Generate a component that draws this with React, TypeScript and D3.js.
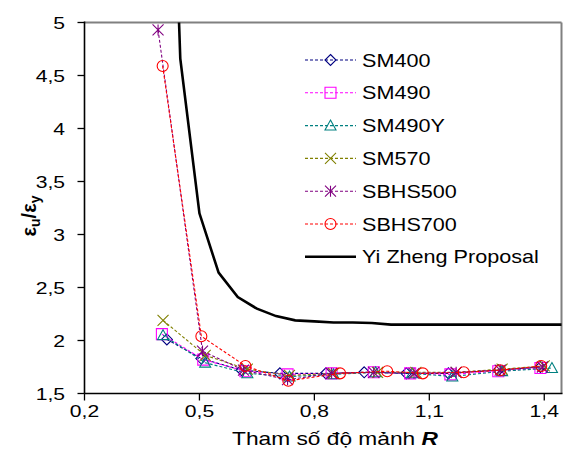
import React from "react";
import * as d3 from "d3";

// ---- data ----
const SERIES_NAMES = ["SM400", "SM490", "SM490Y", "SM570", "SBHS500", "SBHS700"];
const SERIES_COLORS = ["#000080", "#FF00FF", "#008080", "#808000", "#800080", "#FF0000"];
const SERIES_MARKERS = ["diamond", "square", "triangle", "x", "asterisk", "circle"];

const R_SM400 = [0.415, 0.505, 0.61, 0.71, 0.83, 0.93, 1.04, 1.15, 1.28, 1.39];
const V_SM400 = [2.01, 1.83, 1.72, 1.69, 1.69, 1.7, 1.69, 1.69, 1.72, 1.75];
const R_SM490 = [0.402, 0.51, 0.62, 0.73, 0.845, 0.955, 1.05, 1.155, 1.28, 1.39];
const V_SM490 = [2.06, 1.82, 1.71, 1.68, 1.69, 1.7, 1.69, 1.68, 1.71, 1.74];
const R_SM490Y = [0.405, 0.515, 0.625, 0.735, 0.85, 0.96, 1.055, 1.16, 1.29, 1.42];
const V_SM490Y = [2.05, 1.79, 1.69, 1.66, 1.68, 1.7, 1.69, 1.66, 1.71, 1.74];
const R_SM570 = [0.405, 0.515, 0.625, 0.735, 0.85, 0.965, 1.065, 1.17, 1.29, 1.4];
const V_SM570 = [2.19, 1.86, 1.73, 1.67, 1.69, 1.7, 1.7, 1.7, 1.73, 1.76];
const R_SBHS500 = [0.392, 0.508, 0.615, 0.73, 0.845, 0.955, 1.06, 1.17, 1.285, 1.395];
const V_SBHS500 = [4.93, 1.9, 1.72, 1.63, 1.69, 1.7, 1.69, 1.7, 1.72, 1.75];
const R_SBHS700 = [0.404, 0.505, 0.62, 0.732, 0.867, 0.99, 1.083, 1.19, 1.285, 1.392];
const V_SBHS700 = [4.59, 2.04, 1.76, 1.62, 1.69, 1.71, 1.69, 1.7, 1.72, 1.76];

const R_YZ = [0.4, 0.45, 0.5, 0.55, 0.6, 0.65, 0.7, 0.75, 0.8, 0.85, 0.9, 0.95, 1.0, 1.05, 1.1, 1.15, 1.2, 1.25, 1.3, 1.35, 1.4, 1.45];
const V_YZ = [9.9, 4.66, 3.2, 2.64, 2.41, 2.3, 2.23, 2.19, 2.18, 2.17, 2.17, 2.165, 2.15, 2.15, 2.15, 2.15, 2.15, 2.15, 2.15, 2.15, 2.15, 2.15];
const YZ_NAME = "Yi Zheng Proposal";

const X_TICKS = [0.2, 0.5, 0.8, 1.1, 1.4];
const Y_TICKS = [1.5, 2, 2.5, 3, 3.5, 4, 4.5, 5];

const SERIES_R = [R_SM400, R_SM490, R_SM490Y, R_SM570, R_SBHS500, R_SBHS700];
const SERIES_V = [V_SM400, V_SM490, V_SM490Y, V_SM570, V_SBHS500, V_SBHS700];

const fmt = (v: number) => String(v).replace(".", ",");

function markerPath(kind: string, s: number): string {
  const h = s / 2;
  switch (kind) {
    case "diamond":
      return `M0,${-h}L${h},0L0,${h}L${-h},0Z`;
    case "square":
      return `M${-h},${-h}H${h}V${h}H${-h}Z`;
    case "triangle":
      return `M0,${-h}L${h},${h * 0.8}L${-h},${h * 0.8}Z`;
    case "x":
      return `M${-h},${-h}L${h},${h}M${-h},${h}L${h},${-h}`;
    case "asterisk":
      return `M${-h},${-h}L${h},${h}M${-h},${h}L${h},${-h}M0,${-h}V${h}`;
    case "circle":
    default:
      return d3.arc()({ innerRadius: 0, outerRadius: h, startAngle: 0, endAngle: Math.PI * 2 }) as string;
  }
}

export default function App() {
  const W = 565, H = 459;
  const left = 84.5, right = 561.5, top = 22.5, bottom = 393.5;
  const x = d3.scaleLinear().domain([0.2, 1.445]).range([left, right]);
  const y = d3.scaleLinear().domain([1.5, 5]).range([bottom, top]);
  const line = d3.line<[number, number]>().x((d) => x(d[0])).y((d) => y(d[1]));

  const font = "'Liberation Sans', Arial, sans-serif";
  const legendX0 = 305, legendX1 = 356, legendMx = 330.5, legendTx = 362;
  const legendY0 = 60, legendDy = 32.8;

  return (
    <svg width={W} height={H} style={{ position: "absolute", left: 0, top: 0, background: "#fff" }} fontFamily={font}>
      <defs>
        <clipPath id="plotclip">
          <rect x={left} y={top} width={right - left} height={bottom - top} />
        </clipPath>
      </defs>
      <rect x={0} y={0} width={W} height={H} fill="#fff" />

      {/* frame */}
      <line x1={left} y1={top} x2={right} y2={top} stroke="#808080" strokeWidth={2} />
      <line x1={right} y1={top} x2={right} y2={bottom} stroke="#808080" strokeWidth={2} />

      {/* series */}
      <g clipPath="url(#plotclip)">
        {SERIES_NAMES.map((name, i) => {
          const pts = SERIES_R[i].map((r, j) => [r, SERIES_V[i][j]] as [number, number]);
          return (
            <g key={name}>
              <path d={line(pts) as string} fill="none" stroke={SERIES_COLORS[i]} strokeWidth={1.1} strokeDasharray="3,2" />
              {pts.map((p, j) => (
                <path key={j} d={markerPath(SERIES_MARKERS[i], 11)} transform={`translate(${x(p[0])},${y(p[1])})`} fill="none" stroke={SERIES_COLORS[i]} strokeWidth={1.1} />
              ))}
            </g>
          );
        })}
        <path d={line(R_YZ.map((r, j) => [r, V_YZ[j]] as [number, number])) as string} fill="none" stroke="#000" strokeWidth={2.6} />
      </g>

      {/* axes */}
      <line x1={left} y1={top - 1} x2={left} y2={bottom} stroke="#000" strokeWidth={1.6} />
      <line x1={left} y1={bottom} x2={right + 1} y2={bottom} stroke="#000" strokeWidth={1.6} />
      {Y_TICKS.map((t) => (
        <g key={"y" + t}>
          <line x1={left - 7} x2={left} y1={y(t)} y2={y(t)} stroke="#000" strokeWidth={1.3} />
          <text transform={`translate(65,${y(t) + 6}) scale(1.28,1)`} textAnchor="end" fontSize={16.5} fill="#000">
            {fmt(t)}
          </text>
        </g>
      ))}
      {X_TICKS.map((t) => (
        <g key={"x" + t}>
          <line x1={x(t)} x2={x(t)} y1={bottom} y2={bottom + 7} stroke="#000" strokeWidth={1.3} />
          <text transform={`translate(${x(t)},417) scale(1.28,1)`} textAnchor="middle" fontSize={16.5} fill="#000">
            {fmt(t)}
          </text>
        </g>
      ))}

      {/* axis titles */}
      <text transform="translate(335,445) scale(1.3,1)" textAnchor="middle" fontSize={17.5} fill="#000">
        Tham số độ mảnh <tspan fontWeight="bold" fontStyle="italic">R</tspan>
      </text>
      <text transform="translate(36,216) rotate(-90)" textAnchor="middle" fontSize={20} fontWeight="bold" fill="#000">
        ε<tspan fontSize={14} dy={4}>u</tspan><tspan dy={-4}>/ε</tspan><tspan fontSize={14} dy={4}>y</tspan>
      </text>

      {/* legend */}
      {SERIES_NAMES.map((name, i) => {
        const ly = legendY0 + i * legendDy;
        return (
          <g key={"lg" + name}>
            <line x1={legendX0} x2={legendX1} y1={ly} y2={ly} stroke={SERIES_COLORS[i]} strokeWidth={1.1} strokeDasharray="3,2" />
            <path d={markerPath(SERIES_MARKERS[i], 11)} transform={`translate(${legendMx},${ly})`} fill="#fff" fillOpacity={0} stroke={SERIES_COLORS[i]} strokeWidth={1.1} />
            <text transform={`translate(${legendTx},${ly + 6.5}) scale(1.2,1)`} fontSize={18} fill="#000">
              {name}
            </text>
          </g>
        );
      })}
      {(() => {
        const ly = legendY0 + 6 * legendDy;
        return (
          <g>
            <line x1={legendX0} x2={legendX1} y1={ly} y2={ly} stroke="#000" strokeWidth={2.6} />
            <text transform={`translate(${legendTx},${ly + 6.5}) scale(1.2,1)`} fontSize={18} fill="#000">
              {YZ_NAME}
            </text>
          </g>
        );
      })()}
    </svg>
  );
}
